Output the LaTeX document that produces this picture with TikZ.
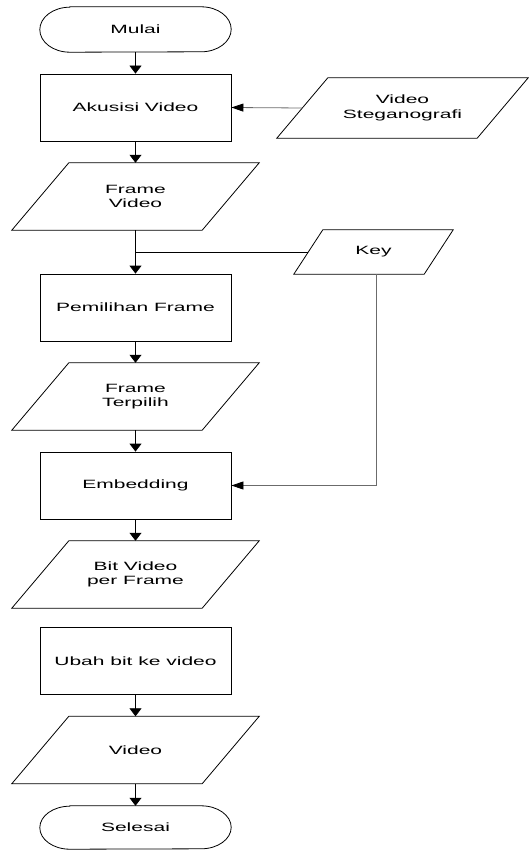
\documentclass[tikz,border=0pt]{standalone}
\usepackage{fontspec}
\setmainfont{Liberation Sans}[FakeStretch=1.75]
\usetikzlibrary{arrows.meta,calc}
\definecolor{lg}{gray}{0.42}
\begin{document}
\begin{tikzpicture}[x=1pt,y=1pt,
  every node/.style={font=\fontsize{12}{14.3}\selectfont, align=center, inner sep=0pt},
  procbox/.style={draw, line width=0.8pt, minimum width=191pt, minimum height=67pt},
  iobox/.style={minimum width=190pt, minimum height=67pt},
  termbox/.style={minimum width=191pt},
  shapeline/.style={line width=0.8pt, line join=miter},
  varrow/.style={line width=0.8pt, -{Triangle[length=8pt,width=12pt]}},
  harrow/.style={line width=0.8pt, lg, -{Triangle[length=12pt,width=8pt,color=black]}},
  plain/.style={line width=0.8pt}
]
\useasboundingbox (0,0) rectangle (528,-850);

% nodes
\node[termbox, minimum height=45pt] (mulai) at (135.5,-29.5) {Mulai};
\node[procbox] (aku) at (135.5,-107.5) {Akusisi Video};
\node[iobox, minimum width=200pt, minimum height=60pt] (steg) at (402.5,-108) {Video\\Steganografi};
\node[iobox] (fv) at (135.5,-196.5) {Frame\\Video};
\node[iobox, minimum width=130pt, minimum height=44pt] (key) at (373.5,-252) {Key};
\node[procbox] (pem) at (135.5,-307.5) {Pemilihan Frame};
\node[iobox] (ft) at (135.5,-396.5) {Frame\\Terpilih};
\node[procbox] (emb) at (135.5,-485.5) {Embedding};
\node[iobox] (bv) at (135.5,-574.5) {Bit Video\\per Frame};
\node[procbox] (ubah) at (135.5,-661) {Ubah bit ke video};
\node[iobox] (vid) at (135.5,-750) {Video};
\node[termbox, minimum height=43pt] (sel) at (135.5,-827.5) {Selesai};

% parallelogram outlines
\foreach \n/\s in {steg/51, fv/57, key/29, ft/57, bv/57, vid/57}{
  \draw[shapeline] ($(\n.south west)+(-\s/2,0)$) -- ($(\n.south east)+(-\s/2,0)$)
    -- ($(\n.north east)+(\s/2,0)$) -- ($(\n.north west)+(\s/2,0)$) -- cycle;
}
% terminal outlines
\foreach \n/\r in {mulai/22.5, sel/21.5}{
  \draw[shapeline] ($(\n.north west)+(30,0)$) -- ($(\n.north east)+(-30,0)$)
    arc[start angle=90, end angle=-90, x radius=30pt, y radius=\r pt]
    -- ($(\n.south west)+(30,0)$)
    arc[start angle=270, end angle=90, x radius=30pt, y radius=\r pt] -- cycle;
}

% connectors
\draw[varrow] (mulai) -- (aku);
\draw[harrow] (steg.west) -- (aku.east);
\draw[varrow] (aku) -- (fv);
\draw[varrow] (fv) -- (pem);
\coordinate (j) at (fv.south |- key.west);
\draw[plain] (j) -- (key.west);
\draw[varrow] (pem) -- (ft);
\draw[varrow] (ft) -- (emb);
\coordinate (kd) at ([xshift=2.5pt]key.south);
\draw[harrow] (kd) |- (emb.east);
\draw[varrow] (emb) -- (bv);
\draw[varrow] (ubah) -- (vid);
\draw[varrow] (vid) -- (sel);
\end{tikzpicture}
\end{document}
